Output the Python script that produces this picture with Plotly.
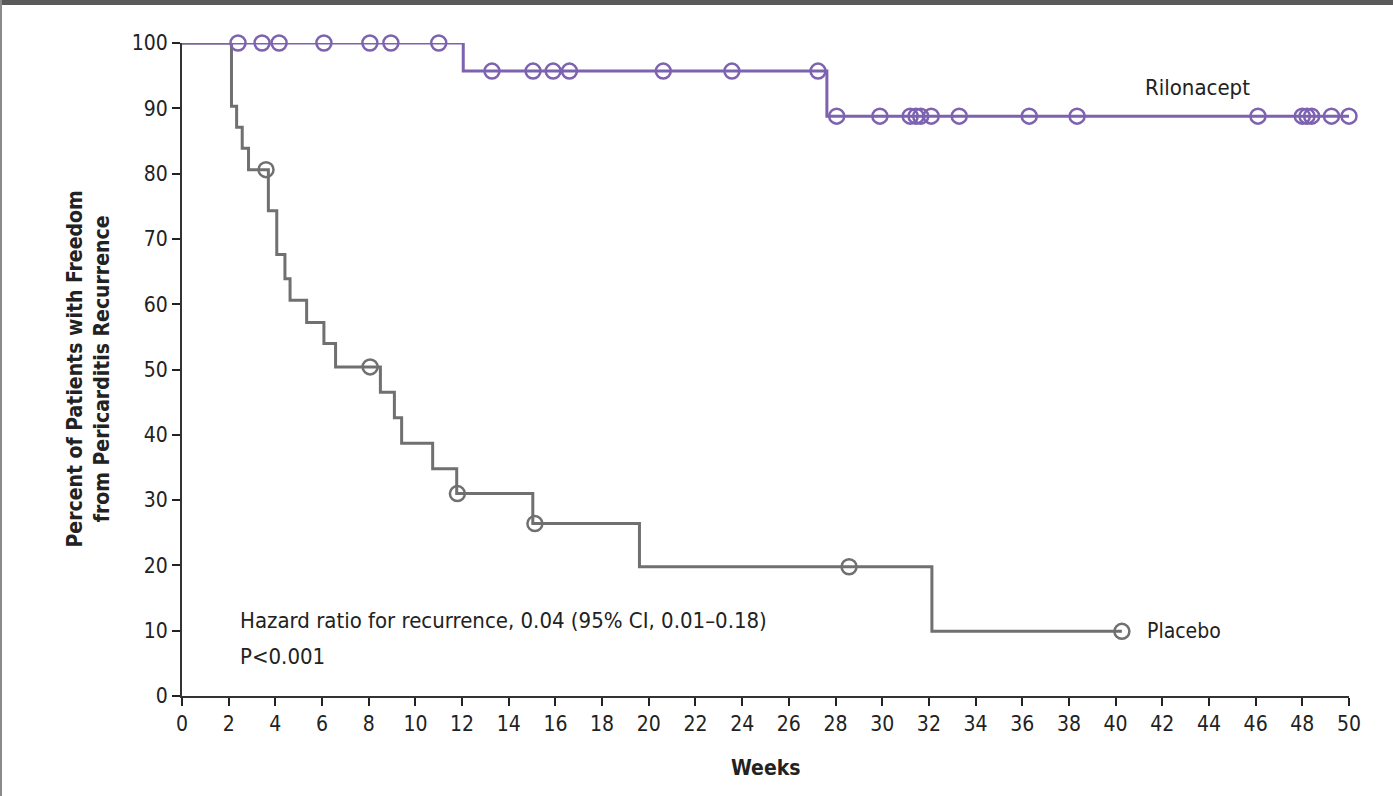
import plotly.graph_objects as go

# ---- data ----
ril_event_weeks = [0, 12.05, 27.63, 50.0]
ril_event_pct = [100, 95.7, 88.8, 88.8]
ril_censor_weeks = [2.4, 3.43, 4.16, 6.08, 8.05, 8.95, 11.0,
                    13.28, 15.04, 15.9, 16.6, 20.62, 23.56, 27.25,
                    28.05, 29.9, 31.2, 31.45, 31.65, 32.1, 33.3, 36.3, 38.35,
                    46.1, 48.0, 48.2, 48.4, 49.25, 50.0]

pla_event_weeks = [0, 2.12, 2.34, 2.58, 2.85, 3.7, 4.06, 4.41, 4.63, 5.34, 6.08, 6.58,
                   8.5, 9.1, 9.41, 10.74, 11.77, 15.03, 19.6, 32.13, 40.27]
pla_event_pct = [100, 90.3, 87.1, 83.9, 80.6, 74.3, 67.6, 63.9, 60.6, 57.2, 54.0, 50.4,
                 46.5, 42.6, 38.7, 34.8, 31.0, 26.4, 19.8, 9.9, 9.9]
pla_censor_weeks = [3.6, 8.06, 11.8, 15.12, 28.58, 40.27]

x_ticks = list(range(0, 51, 2))
y_ticks = list(range(0, 101, 10))

PURPLE = "#7D62B0"
GRAY = "#707070"
TXT = "#222222"
FONT = "Liberation Sans Narrow, DejaVu Sans Condensed, Open Sans, sans-serif"


def step_value(times, vals, t):
    v = vals[0]
    for tt, vv in zip(times, vals):
        if tt <= t:
            v = vv
    return v


ril_censor_pct = [step_value(ril_event_weeks, ril_event_pct, t) for t in ril_censor_weeks]
pla_censor_pct = [step_value(pla_event_weeks, pla_event_pct, t) for t in pla_censor_weeks]

fig = go.Figure()
fig.add_trace(go.Scatter(x=pla_event_weeks, y=pla_event_pct, mode="lines",
                         line=dict(color=GRAY, width=3, shape="hv"), cliponaxis=False,
                         showlegend=False))
fig.add_trace(go.Scatter(x=pla_censor_weeks, y=pla_censor_pct, mode="markers",
                         marker=dict(symbol="circle-open", size=15, color=GRAY,
                                     line=dict(width=2.5, color=GRAY)),
                         cliponaxis=False, showlegend=False))
fig.add_trace(go.Scatter(x=ril_event_weeks, y=ril_event_pct, mode="lines",
                         line=dict(color=PURPLE, width=3, shape="hv"), cliponaxis=False,
                         showlegend=False))
fig.add_trace(go.Scatter(x=ril_censor_weeks, y=ril_censor_pct, mode="markers",
                         marker=dict(symbol="circle-open", size=15, color=PURPLE,
                                     line=dict(width=2.5, color=PURPLE)),
                         cliponaxis=False, showlegend=False))

W, H = 1393, 796
L, R, T, B = 182, 44, 43, 100
pw, ph = W - L - R, H - T - B


def px(x):
    return (x - L) / pw


def py(y):
    return (H - B - y) / ph


TF = 21
AF = 22
fig.update_layout(
    width=W, height=H,
    margin=dict(l=L, r=R, t=T, b=B),
    paper_bgcolor="white", plot_bgcolor="white",
    font=dict(family=FONT, color=TXT, size=TF),
    xaxis=dict(range=[0, 50], tickvals=x_ticks, ticktext=[str(v) for v in x_ticks],
               showgrid=False, zeroline=False, showline=True, linecolor="#333333",
               linewidth=2, ticks="outside", ticklen=8, tickwidth=2, tickcolor="#222222",
               tickfont=dict(size=TF, family=FONT, color=TXT), fixedrange=True),
    yaxis=dict(range=[0, 100], tickvals=y_ticks, ticktext=[str(v) for v in y_ticks],
               showgrid=False, zeroline=False, showline=True, linecolor="#333333",
               linewidth=2, ticks="outside", ticklen=8, tickwidth=2, tickcolor="#222222",
               tickfont=dict(size=TF, family=FONT, color=TXT), fixedrange=True),
    shapes=[
        dict(type="rect", xref="paper", yref="paper", x0=px(0), x1=px(W), y0=py(5), y1=py(0),
             fillcolor="#5a5a5a", line=dict(width=0), layer="above"),
        dict(type="rect", xref="paper", yref="paper", x0=px(0), x1=px(2), y0=py(H), y1=py(0),
             fillcolor="#8a8a8a", line=dict(width=0), layer="above"),
    ],
    annotations=[
        dict(text="Rilonacept", x=43.5, y=93.2, xref="x", yref="y", showarrow=False,
             font=dict(size=AF, family=FONT, color=TXT), xanchor="center", yanchor="middle"),
        dict(text="Placebo", x=41.25, y=9.9, xref="x", yref="y", showarrow=False,
             font=dict(size=21, family=FONT, color=TXT), xanchor="left", yanchor="middle"),
        dict(text="Hazard ratio for recurrence, 0.04 (95% CI, 0.01\u20130.18)",
             x=2.4, y=11.5, xref="x", yref="y", showarrow=False, align="left",
             font=dict(size=AF, family=FONT, color=TXT), xanchor="left", yanchor="middle"),
        dict(text="P<0.001",
             x=2.4, y=6.1, xref="x", yref="y", showarrow=False, align="left",
             font=dict(size=AF, family=FONT, color=TXT), xanchor="left", yanchor="middle"),
        dict(text="<b>Weeks</b>", x=0.5, y=py(768), xref="paper", yref="paper",
             showarrow=False, font=dict(size=21, family=FONT, color=TXT),
             xanchor="center", yanchor="middle"),
        dict(text="<b>Percent of Patients with Freedom<br>from Pericarditis Recurrence</b>",
             x=px(88), y=0.5, xref="paper", yref="paper", showarrow=False, textangle=-90,
             font=dict(size=21, family=FONT, color=TXT), xanchor="center", yanchor="middle"),
    ],
)

fig.write_html("out.html")
